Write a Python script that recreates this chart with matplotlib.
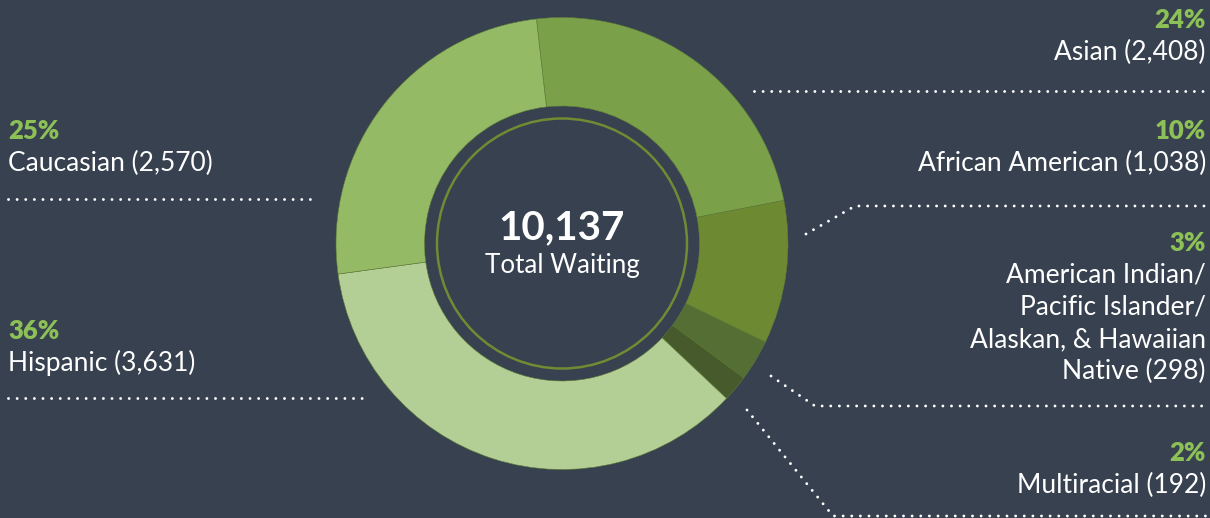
import matplotlib
matplotlib.use("Agg")
import matplotlib.pyplot as plt
from matplotlib.patches import Circle

W, H = 1210, 518
BG = "#37414f"
PCT_COLOR = "#8dc157"

groups = ["Asian", "African American", "American Indian", "Multiracial", "Hispanic", "Caucasian"]
counts = [2408, 1038, 298, 192, 3631, 2570]
colors = ["#7ba04a", "#6d8a33", "#546e34", "#465a2b", "#b4cf95", "#95ba66"]
total = sum(counts)

plt.rcParams["font.family"] = ["Lato", "DejaVu Sans"]
plt.rcParams["lines.scale_dashes"] = False

fig = plt.figure(figsize=(W / 100, H / 100), dpi=100, facecolor=BG)
ax = fig.add_axes([0, 0, 1, 1])
ax.set_facecolor(BG)


def Y(y):
    # pixel row from top -> data y
    return H - y


cx, cy = 562, Y(243.5)
r_out, r_in = 226, 137.5
ax.pie(counts, colors=colors, startangle=96.5, counterclock=False,
       radius=r_out, center=(cx, cy),
       wedgeprops=dict(width=r_out - r_in, edgecolor="#5f7d38", linewidth=0.4))
ax.add_patch(Circle((cx, cy), 125, fill=False, edgecolor="#6f8b33", lw=1.8))

ax.text(cx, Y(228), f"{total:,}", ha="center", va="center", color="white",
        fontsize=29, fontweight="bold")
ax.text(cx, Y(266), "Total Waiting", ha="center", va="center", color="white",
        fontsize=18.7)


def label(x, y_pct, pct, lines, ha):
    ax.text(x, Y(y_pct), pct, ha=ha, va="center", color=PCT_COLOR,
            fontsize=18.5, fontweight="heavy")
    for i, ln in enumerate(lines):
        ax.text(x, Y(y_pct + 32 + 32.3 * i), ln, ha=ha, va="center",
                color="white", fontsize=19)


pcts = [f"{round(c / total * 100)}%" for c in counts]

label(1206, 20, pcts[0], ["Asian (2,408)"], "right")
label(1206, 131, pcts[1], ["African American (1,038)"], "right")
label(1206, 243, pcts[2], ["American Indian/", "Pacific Islander/",
                           "Alaskan, & Hawaiian", "Native (298)"], "right")
label(1206, 453, pcts[3], ["Multiracial (192)"], "right")
label(8, 131, pcts[5], ["Caucasian (2,570)"], "left")
label(8, 331, pcts[4], ["Hispanic (3,631)"], "left")


def dotted(xs, ys):
    ax.plot(xs, [Y(v) for v in ys], color="white", lw=2.1,
            dashes=(0.01, 6.2), dash_capstyle="round")


dotted([754, 1206], [91, 91])
dotted([806, 855, 1206], [234, 206, 206])
dotted([771, 815, 1206], [376, 406, 406])
dotted([747, 833, 1206], [410, 516, 516])
dotted([8, 316], [199, 199])
dotted([8, 363], [398, 398])

ax.set_xlim(0, W)
ax.set_ylim(0, H)
ax.set_aspect("equal")
ax.axis("off")

fig.savefig("out.png", dpi=100, facecolor=BG)
